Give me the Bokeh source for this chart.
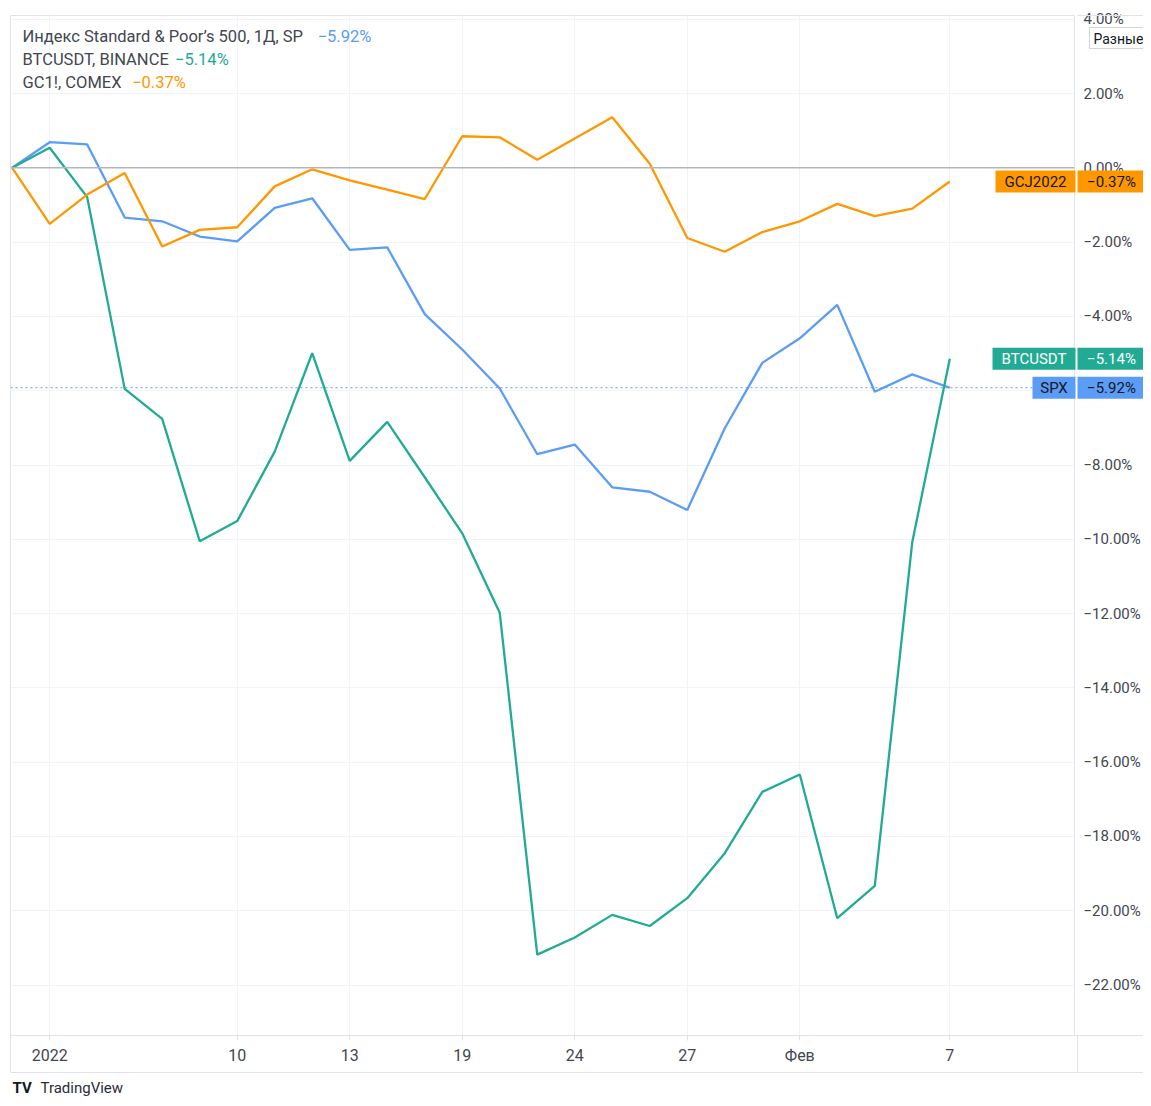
from bokeh.plotting import figure
from bokeh.models import Range1d, FixedTicker, Span, Label
from bokeh.layouts import column
from bokeh.core.properties import value
from bokeh.embed import file_html
from bokeh.resources import INLINE

# ---------------- data (percent change since 31 Dec 2021) ----------------
dates = ["2021-12-31", "2022-01-03", "2022-01-04", "2022-01-05", "2022-01-06", "2022-01-07",
         "2022-01-10", "2022-01-11", "2022-01-12", "2022-01-13", "2022-01-14", "2022-01-18",
         "2022-01-19", "2022-01-20", "2022-01-21", "2022-01-24", "2022-01-25", "2022-01-26",
         "2022-01-27", "2022-01-28", "2022-01-31", "2022-02-01", "2022-02-02", "2022-02-03",
         "2022-02-04", "2022-02-07"]
spx = [0.00, 0.69, 0.63, -1.34, -1.44, -1.85, -1.98, -1.08, -0.82, -2.21, -2.14, -3.94, -4.89,
       -5.94, -7.71, -7.45, -8.60, -8.72, -9.21, -7.01, -5.25, -4.59, -3.69, -6.03, -5.56, -5.92]
btc = [0.00, 0.54, -0.79, -5.95, -6.76, -10.05, -9.51, -7.64, -4.99, -7.89, -6.84, -8.33, -9.84,
       -11.98, -21.18, -20.72, -20.11, -20.41, -19.66, -18.45, -16.80, -16.33, -20.20, -19.33,
       -10.07, -5.14]
gc = [0.00, -1.51, -0.72, -0.14, -2.12, -1.67, -1.60, -0.50, -0.04, -0.34, -0.59, -0.84, 0.85,
      0.82, 0.22, 0.79, 1.36, 0.11, -1.89, -2.26, -1.73, -1.44, -0.97, -1.30, -1.10, -0.37]

tick_dates = ["2022-01-03", "2022-01-10", "2022-01-13", "2022-01-19", "2022-01-24",
              "2022-01-27", "2022-02-01", "2022-02-07"]
tick_labels = ["2022", "10", "13", "19", "24", "27", "Фев", "7"]
y_ticks = [4, 2, 0, -2, -4, -6, -8, -10, -12, -14, -16, -18, -20, -22]

legend_names = ["Индекс Standard & Poor’s 500, 1Д, SP", "BTCUSDT, BINANCE", "GC1!, COMEX"]
tag_names = ["SPX", "BTCUSDT", "GCJ2022"]

# ---------------- styling / layout ----------------
BLUE, GREEN, ORANGE = "#5b9cf6", "#22ab94", "#ff9800"
FONT = "Roboto"
TEXT = "#434651"
BORDER = "#e0e3eb"

W, H = 1143, 1098
FL, FT = 10, 15          # frame offset inside canvas
FW, FH = 1067, 1020      # frame size
X0, X1 = -0.045, 28.325
Y0, Y1 = -23.357, 4.10
XPX = FW / (X1 - X0)
YPX = FH / (Y1 - Y0)


def dx(px):
    return X0 + (px - FL) / XPX


def dy(py):
    return Y1 - (py - FT) / YPX


def fmt(v):
    return (f"{v:.2f}%").replace("-", "−")


xs = list(range(len(dates)))

p = figure(width=W, height=H, output_backend="svg", toolbar_location=None,
           x_range=Range1d(X0, X1), y_range=Range1d(Y0, Y1),
           y_axis_location="right",
           min_border_left=FL, min_border_right=W - FL - FW,
           min_border_top=FT, min_border_bottom=H - FT - FH)
p.background_fill_color = "white"
p.border_fill_color = "white"
p.outline_line_color = BORDER

xa = p.xaxis[0]
xa.ticker = FixedTicker(ticks=[dates.index(d) for d in tick_dates])
xa.major_label_overrides = {dates.index(d): l for d, l in zip(tick_dates, tick_labels)}
xa.axis_line_color = BORDER
xa.major_tick_line_color = BORDER
xa.major_tick_out = 5
xa.major_tick_in = 0
xa.minor_tick_line_color = None
xa.major_label_standoff = 5
xa.major_label_text_font = FONT
xa.major_label_text_font_size = "16px"
xa.major_label_text_color = TEXT

ya = p.yaxis[0]
ya.ticker = FixedTicker(ticks=y_ticks)
ya.major_label_overrides = {v: fmt(v) for v in y_ticks}
ya.axis_line_color = BORDER
ya.major_tick_line_color = None
ya.major_tick_out = 0
ya.major_tick_in = 0
ya.minor_tick_line_color = None
ya.minor_tick_out = 0
ya.major_label_standoff = 9
ya.major_label_text_font = FONT
ya.major_label_text_font_size = "15px"
ya.major_label_text_color = TEXT

p.xgrid.grid_line_color = "#f0f3fa"
p.ygrid.grid_line_color = "#f0f3fa"

p.add_layout(Span(location=0, dimension="width", line_color="#b2b5be", line_width=1.5))
p.add_layout(Span(location=spx[-1], dimension="width", line_color=BLUE, line_width=1,
                  line_dash="2 3"))

p.line(xs, spx, line_color=BLUE, line_width=2.3)
p.line(xs, btc, line_color=GREEN, line_width=2.3)
p.line(xs, gc, line_color=ORANGE, line_width=2.3)

series_last = [spx[-1], btc[-1], gc[-1]]
colors = [BLUE, GREEN, ORANGE]
legend_y = [36, 59, 82]
legend_val_x = [318, 175, 132]
for name, val, col, ly, vx in zip(legend_names, series_last, colors, legend_y, legend_val_x):
    p.add_layout(Label(x=dx(22), y=dy(ly), text=name, text_font=FONT, text_font_size="16.5px",
                       text_color=TEXT, text_baseline="middle", text_align="left"))
    p.add_layout(Label(x=dx(vx), y=dy(ly), text=fmt(val), text_font=FONT,
                       text_font_size="16.5px", text_color=col,
                       text_baseline="middle", text_align="left"))

# ---------------- overlay figure: price tags, strip borders, button, logo ----------------
o = figure(width=W, height=H, output_backend="svg", toolbar_location=None,
           x_range=Range1d(dx(0), dx(W)), y_range=Range1d(dy(H), dy(0)),
           x_axis_type=None, y_axis_type=None,
           min_border_left=0, min_border_right=0, min_border_top=0, min_border_bottom=0,
           styles={"margin-top": f"-{H}px"})
o.background_fill_color = None
o.border_fill_color = None
o.outline_line_color = None
o.xgrid.visible = False
o.ygrid.visible = False

for fig in (p, o):
    if "frame_align" in fig.properties():
        fig.frame_align = False

# strip borders (x-axis strip and price-scale strip)
o.quad(left=[dx(FL)], right=[dx(W + 5)], top=[dy(1035)], bottom=[dy(1072)],
       fill_color=None, line_color=BORDER, line_width=1)
o.segment(x0=[dx(1077)], y0=[dy(1035)], x1=[dx(1077)], y1=[dy(1072)],
          line_color=BORDER, line_width=1)
o.segment(x0=[dx(1077)], y0=[dy(FT)], x1=[dx(W)], y1=[dy(FT)], line_color=BORDER, line_width=1)

# price tags
tag_left = [1032, 992, 995]
tag_text_col = ["#131722", "white", "#131722"]
half = 11 / YPX
o.quad(left=[dx(t) for t in tag_left], right=[dx(1075)] * 3,
       top=[v + half for v in series_last], bottom=[v - half for v in series_last],
       fill_color=colors, line_color=None)
o.quad(left=[dx(1077)] * 3, right=[dx(W + 5)] * 3,
       top=[v + half for v in series_last], bottom=[v - half for v in series_last],
       fill_color=colors, line_color=None)
o.text(x=[dx((t + 1075) / 2) for t in tag_left], y=series_last, text=tag_names,
       text_color=tag_text_col, text_align="center", text_baseline="middle",
       text_font=value(FONT), text_font_size="15px")
o.text(x=[dx(1111)] * 3, y=series_last, text=[fmt(v) for v in series_last],
       text_color=tag_text_col, text_align="center", text_baseline="middle",
       text_font=value(FONT), text_font_size="15px")

# "Разные" button
o.quad(left=[dx(1089)], right=[dx(W + 10)], top=[dy(27)], bottom=[dy(48)],
       fill_color="white", line_color="#d1d4dc", line_width=1)
o.text(x=[dx(1093)], y=[dy(38)], text=["Разные"], text_color="#131722",
       text_align="left", text_baseline="middle", text_font=value(FONT),
       text_font_size="14px")

# TradingView logo
o.text(x=[dx(12)], y=[dy(1087)], text=["TV"], text_color="#131722", text_font_style="bold",
       text_align="left", text_baseline="middle", text_font=value(FONT),
       text_font_size="15px")
o.text(x=[dx(40)], y=[dy(1087)], text=["TradingView"], text_color="#2a2e39",
       text_align="left", text_baseline="middle", text_font=value(FONT),
       text_font_size="15px")

layout = column(p, o)
open("out.html", "w").write(file_html(layout, INLINE))
